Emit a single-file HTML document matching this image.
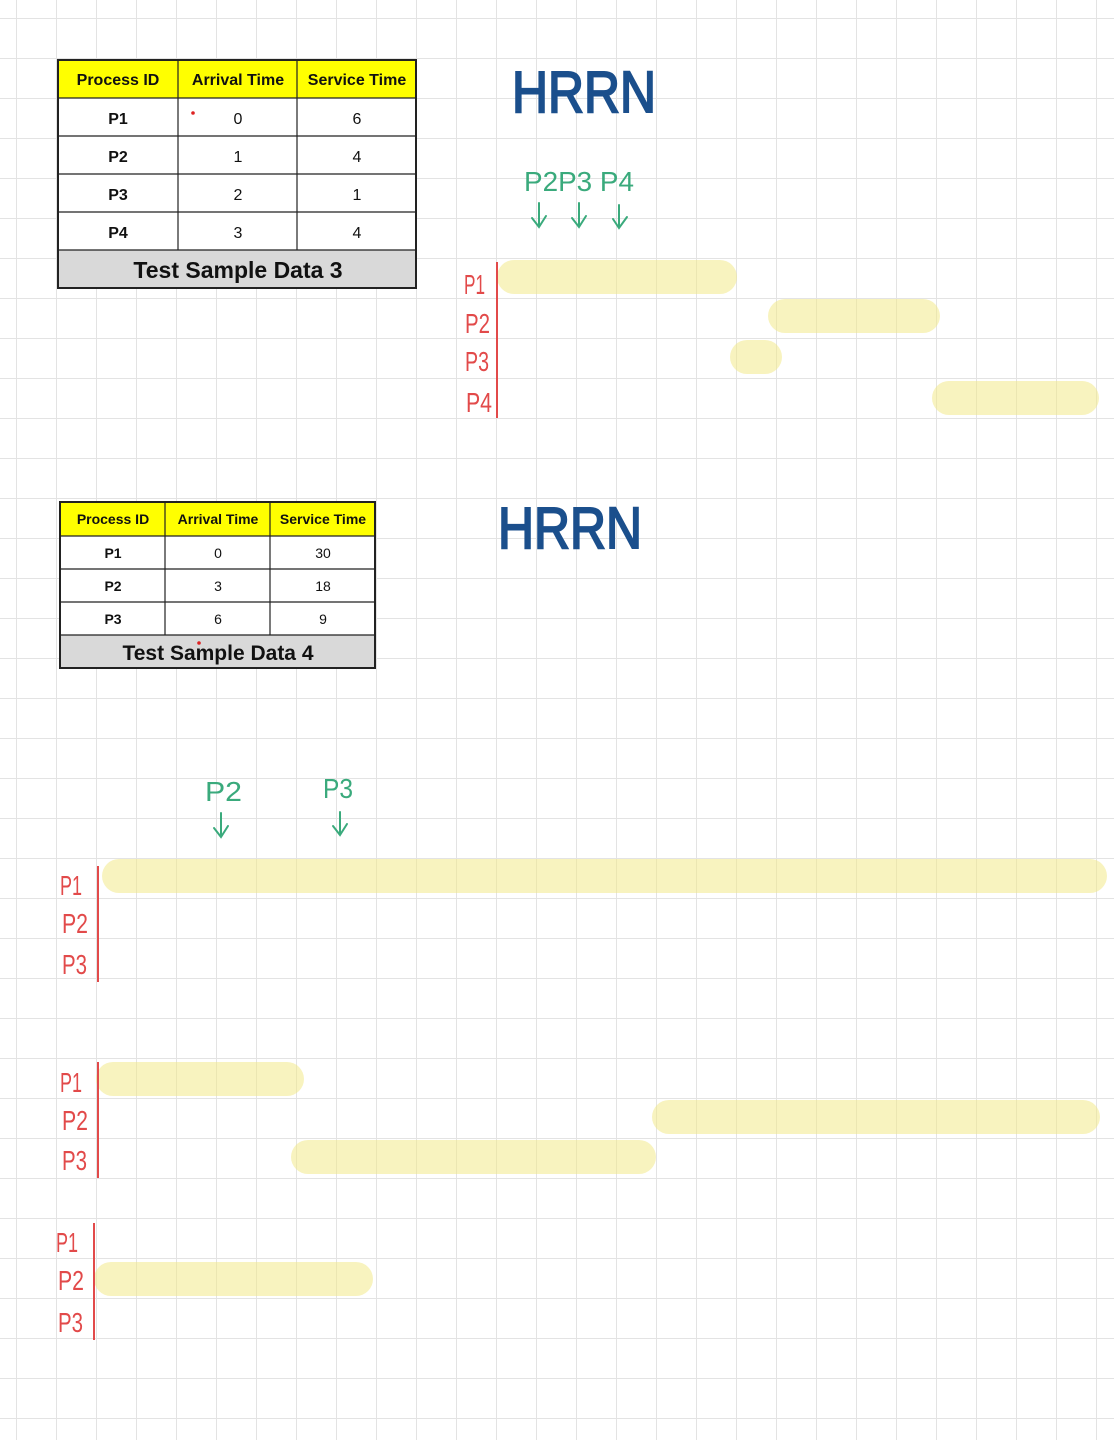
<!DOCTYPE html>
<html><head><meta charset="utf-8"><style>
html,body{margin:0;padding:0;background:#fff}
svg{display:block}
.t{font-family:"Liberation Sans","Noto Sans CJK KR",sans-serif}
.hw{font-family:"Liberation Sans",sans-serif}
</style></head><body>
<svg width="1114" height="1440" xmlns="http://www.w3.org/2000/svg">
<defs>
<pattern id="g" x="16" y="18" width="40" height="40" patternUnits="userSpaceOnUse">
<path d="M0 0H40M0 0V40" stroke="#e3e3e3" stroke-width="2" fill="none"/>
</pattern>
</defs>
<rect width="1114" height="1440" fill="url(#g)"/>

<!-- Table 1 -->
<g class="t">
<rect x="58" y="60" width="358" height="228" fill="#fff"/>
<rect x="58" y="60" width="358" height="38" fill="#ffff00"/>
<rect x="58" y="250" width="358" height="38" fill="#d9d9d9"/>
<g stroke="#222" stroke-width="1.2" fill="none">
<rect x="58" y="60" width="358" height="228" stroke-width="2"/>
<path d="M58 98H416M58 136H416M58 174H416M58 212H416M58 250H416M178 60V250M297 60V250"/>
</g>
<g font-size="16" font-weight="bold" text-anchor="middle" fill="#111">
<text x="118" y="85">Process ID</text><text x="238" y="85">Arrival Time</text><text x="357" y="85">Service Time</text>
<text x="118" y="124">P1</text><text x="118" y="162">P2</text><text x="118" y="200">P3</text><text x="118" y="238">P4</text>
</g>
<g font-size="16" text-anchor="middle" fill="#111">
<text x="238" y="124">0</text><text x="357" y="124">6</text>
<text x="238" y="162">1</text><text x="357" y="162">4</text>
<text x="238" y="200">2</text><text x="357" y="200">1</text>
<text x="238" y="238">3</text><text x="357" y="238">4</text>
</g>
<circle cx="193" cy="113" r="1.8" fill="#d22"/>
<text x="238" y="278" font-size="23" font-weight="bold" text-anchor="middle" fill="#111">Test Sample Data 3</text>
</g>

<!-- Table 2 -->
<g class="t">
<rect x="60" y="502" width="315" height="166" fill="#fff"/>
<rect x="60" y="502" width="315" height="34" fill="#ffff00"/>
<rect x="60" y="635" width="315" height="33" fill="#d9d9d9"/>
<g stroke="#222" stroke-width="1.2" fill="none">
<rect x="60" y="502" width="315" height="166" stroke-width="2"/>
<path d="M60 536H375M60 569H375M60 602H375M60 635H375M165 502V635M270 502V635"/>
</g>
<g font-size="14" font-weight="bold" text-anchor="middle" fill="#111">
<text x="113" y="524">Process ID</text><text x="218" y="524">Arrival Time</text><text x="323" y="524">Service Time</text>
<text x="113" y="558">P1</text><text x="113" y="591">P2</text><text x="113" y="624">P3</text>
</g>
<g font-size="14" text-anchor="middle" fill="#111">
<text x="218" y="558">0</text><text x="323" y="558">30</text>
<text x="218" y="591">3</text><text x="323" y="591">18</text>
<text x="218" y="624">6</text><text x="323" y="624">9</text>
</g>
<circle cx="199" cy="643" r="1.8" fill="#d22"/>
<text x="218" y="660" font-size="21" font-weight="bold" text-anchor="middle" fill="#111">Test Sample Data 4</text>
</g>

<!-- HRRN titles -->
<text class="hw" x="512" y="112" font-size="58" fill="#1b4f8c" stroke="#1b4f8c" stroke-width="2" textLength="144" lengthAdjust="spacingAndGlyphs">HRRN</text>
<text class="hw" x="498" y="548" font-size="58" fill="#1b4f8c" stroke="#1b4f8c" stroke-width="2" textLength="144" lengthAdjust="spacingAndGlyphs">HRRN</text>

<!-- Bars -->
<g fill="#f2e98a" fill-opacity="0.55">
<rect x="497" y="260" width="240" height="34" rx="17"/>
<rect x="768" y="299" width="172" height="34" rx="17"/>
<rect x="730" y="340" width="52" height="34" rx="17"/>
<rect x="932" y="381" width="167" height="34" rx="17"/>
<rect x="102" y="859" width="1005" height="34" rx="17"/>
<rect x="96" y="1062" width="208" height="34" rx="17"/>
<rect x="652" y="1100" width="448" height="34" rx="17"/>
<rect x="291" y="1140" width="365" height="34" rx="17"/>
<rect x="94" y="1262" width="279" height="34" rx="17"/>
</g>

<!-- Axes -->
<g stroke="#e24a4a" stroke-width="2">
<path d="M497 262V418M98 866V982M98 1062V1178M94 1223V1340"/>
</g>
<g class="hw" fill="#e24a4a" font-size="28">
<text x="464" y="294" textLength="21" lengthAdjust="spacingAndGlyphs">P1</text>
<text x="465" y="333" textLength="25" lengthAdjust="spacingAndGlyphs">P2</text>
<text x="465" y="371" textLength="24" lengthAdjust="spacingAndGlyphs">P3</text>
<text x="466" y="412" textLength="26" lengthAdjust="spacingAndGlyphs">P4</text>
<text x="60" y="895" textLength="22" lengthAdjust="spacingAndGlyphs">P1</text>
<text x="62" y="933" textLength="26" lengthAdjust="spacingAndGlyphs">P2</text>
<text x="62" y="974" textLength="25" lengthAdjust="spacingAndGlyphs">P3</text>
<text x="60" y="1092" textLength="22" lengthAdjust="spacingAndGlyphs">P1</text>
<text x="62" y="1130" textLength="26" lengthAdjust="spacingAndGlyphs">P2</text>
<text x="62" y="1170" textLength="25" lengthAdjust="spacingAndGlyphs">P3</text>
<text x="56" y="1252" textLength="22" lengthAdjust="spacingAndGlyphs">P1</text>
<text x="58" y="1290" textLength="26" lengthAdjust="spacingAndGlyphs">P2</text>
<text x="58" y="1332" textLength="25" lengthAdjust="spacingAndGlyphs">P3</text>
</g>

<!-- Green annotations -->
<g class="hw" fill="#3aaa7c" font-size="28">
<text x="524" y="191" textLength="110" lengthAdjust="spacingAndGlyphs">P2P3 P4</text>
<text x="205" y="801" textLength="37" lengthAdjust="spacingAndGlyphs">P2</text>
<text x="323" y="798" textLength="30" lengthAdjust="spacingAndGlyphs">P3</text>
</g>
<g stroke="#3aaa7c" stroke-width="2" fill="none" stroke-linecap="round">
<path d="M539 203V227M532 218L539 227L546 216"/>
<path d="M579 203V227M572 218L579 227L586 216"/>
<path d="M619 205V228M613 219L619 228L627 217"/>
<path d="M221 813V837M214 828L221 837L228 826"/>
<path d="M340 812V835M333 826L340 835L347 824"/>
</g>
</svg>
</body></html>
